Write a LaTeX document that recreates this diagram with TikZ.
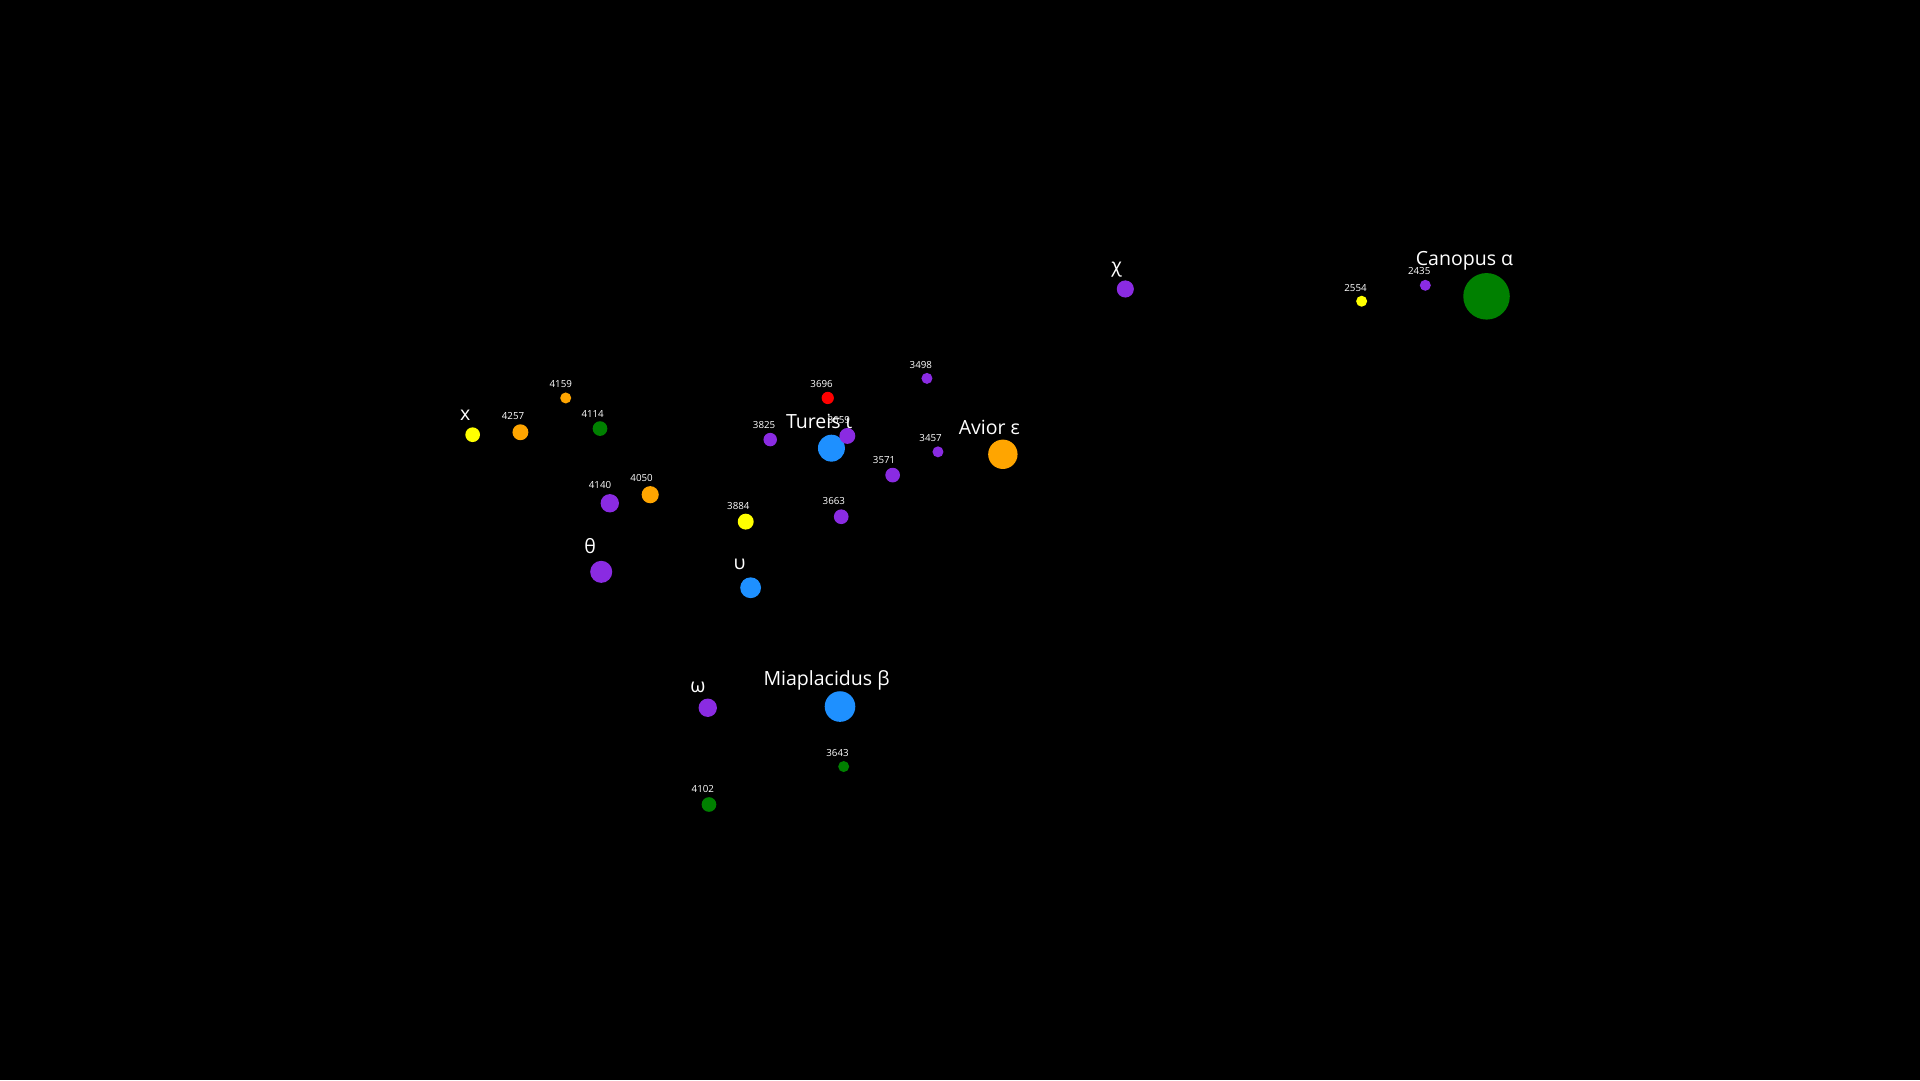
\documentclass[tikz,border=0pt]{standalone}
\usepackage{fontspec}
\setmainfont{Open Sans}
\definecolor{cpurple}{HTML}{8A2BE2}
\definecolor{cblue}{HTML}{1E90FF}
\definecolor{cgreen}{HTML}{008000}
\definecolor{corange}{HTML}{FFA500}
\definecolor{cyellow}{HTML}{FFFF00}
\definecolor{cred}{HTML}{FF0000}
\tikzset{star/.style={circle,inner sep=0pt,minimum size=#1},
 big/.style={text=white,font=\fontsize{16}{18}\selectfont,inner sep=0pt},
 small/.style={text=white,font=\fontsize{8}{9}\selectfont,inner sep=0pt}}
\begin{document}
\begin{tikzpicture}[x=1bp,y=-1bp]
\fill[black] (0,0) rectangle (1568,882);
\useasboundingbox (0,0) rectangle (1568,882);
% stars
\node[star=38bp,fill=cgreen] (canopus) at (1214,242) {};
\node[star=24bp,fill=corange] (avior) at (819,371) {};
\node[star=22bp,fill=cblue] (tureis) at (679,366) {};
\node[star=25bp,fill=cblue] (mia) at (686,577) {};
\node[star=17bp,fill=cblue] (ups) at (613,480) {};
\node[star=18bp,fill=cpurple] (theta) at (491,467) {};
\node[star=15bp,fill=cpurple] (omega) at (578,578) {};
\node[star=14bp,fill=cpurple] (chi) at (919,236) {};
\node[star=12bp,fill=cyellow] (x) at (386,355) {};
\node[star=13bp,fill=corange] (s4257) at (425,353) {};
\node[star=9bp,fill=corange] (s4159) at (462,325) {};
\node[star=12bp,fill=cgreen] (s4114) at (490,350) {};
\node[star=15bp,fill=cpurple] (s4140) at (498,411) {};
\node[star=14bp,fill=corange] (s4050) at (531,404) {};
\node[star=13bp,fill=cyellow] (s3884) at (609,426) {};
\node[star=11bp,fill=cpurple] (s3825) at (629,359) {};
\node[star=10bp,fill=cred] (s3696) at (676,325) {};
\node[star=13bp,fill=cpurple] (s3659) at (692,356) {};
\node[star=9bp,fill=cpurple] (s3498) at (757,309) {};
\node[star=9bp,fill=cpurple] (s3457) at (766,369) {};
\node[star=12bp,fill=cpurple] (s3571) at (729,388) {};
\node[star=12bp,fill=cpurple] (s3663) at (687,422) {};
\node[star=9bp,fill=cgreen] (s3643) at (689,626) {};
\node[star=12bp,fill=cgreen] (s4102) at (579,657) {};
\node[star=9bp,fill=cyellow] (s2554) at (1112,246) {};
\node[star=9bp,fill=cpurple] (s2435) at (1164,233) {};
% labels
\node[big] (lcan) at (1196,213) {Canopus α};
\node[big] (lav) at (808,349) {Avior ε};
\node[big] (ltu) at (669,344) {Tureis ι};
\node[big] (lmia) at (675,556) {Miaplacidus β};
\node[big] (lups) at (604,461) {υ};
\node[big] (lth) at (482,446) {θ};
\node[big] (lom) at (570,561) {ω};
\node[big] (lchi) at (912,220) {χ};
\node[big] (lx) at (380,339) {x};
\node[small] (l4257) at (419,340) {4257};
\node[small] (l4159) at (458,314) {4159};
\node[small] (l4114) at (484,338) {4114};
\node[small] (l4140) at (490,396) {4140};
\node[small] (l4050) at (524,390) {4050};
\node[small] (l3884) at (603,413) {3884};
\node[small] (l3825) at (624,347) {3825};
\node[small] (l3696) at (671,314) {3696};
\node[small] (l3659) at (685,343) {3659};
\node[small] (l3498) at (752,298) {3498};
\node[small] (l3457) at (760,358) {3457};
\node[small] (l3571) at (722,376) {3571};
\node[small] (l3663) at (681,409) {3663};
\node[small] (l3643) at (684,615) {3643};
\node[small] (l4102) at (574,644) {4102};
\node[small] (l2554) at (1107,235) {2554};
\node[small] (l2435) at (1159,221) {2435};
\end{tikzpicture}
\end{document}
